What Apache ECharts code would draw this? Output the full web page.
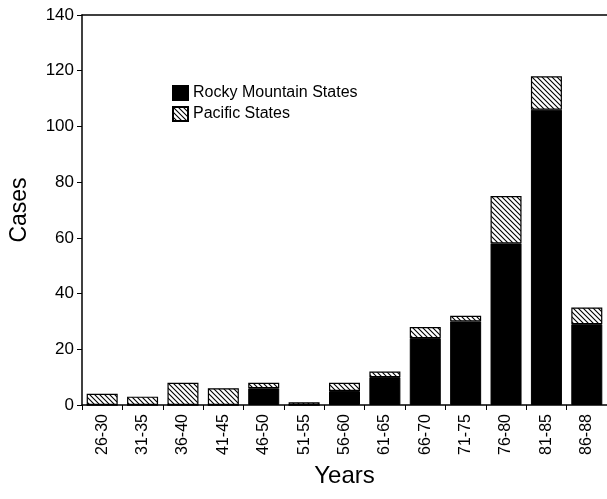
<!DOCTYPE html>
<html>
<head>
<meta charset="utf-8">
<script src="https://cdn.jsdelivr.net/npm/echarts@6/dist/echarts.min.js"></script>
<style>
html,body{margin:0;padding:0;background:#fff;}
#main{width:607px;height:499px;}
</style>
</head>
<body>
<div id="main"></div>
<script>
const categories = ['26-30','31-35','36-40','41-45','46-50','51-55','56-60','61-65','66-70','71-75','76-80','81-85','86-88'];
const rockyMountain = [0,0,0,0,6,0,5,10,24,30,58,106,29];
const pacific = [4,3,8,6,2,1,3,2,4,2,17,12,6];
const yTicks = {min:0, max:140, interval:20};

function makeHatch(){
  const c = document.createElement('canvas');
  const s = 5;
  c.width = s; c.height = s;
  const ctx = c.getContext('2d');
  ctx.fillStyle = '#fff';
  ctx.fillRect(0,0,s,s);
  ctx.strokeStyle = '#000';
  ctx.lineWidth = 1.1;
  ctx.beginPath();
  ctx.moveTo(-1,-1); ctx.lineTo(s+1,s+1);
  ctx.moveTo(-1,s-1); ctx.lineTo(1,s+1);
  ctx.moveTo(s-1,-1); ctx.lineTo(s+1,1);
  ctx.stroke();
  return c;
}
const hatch = {image: makeHatch(), repeat: 'repeat'};
const font = 'Liberation Sans, Arial, Helvetica, sans-serif';

const chart = echarts.init(document.getElementById('main'));
chart.setOption({
  animation:false,
  backgroundColor:'#fff',
  grid:{left:81, right:0, top:15, bottom:94},
  legend:{
    orient:'vertical', left:172, top:85, padding:0, itemWidth:15, itemHeight:14, itemGap:5,
    textStyle:{fontFamily:font, fontSize:16, color:'#000'},
    data:[{name:'Rocky Mountain States', icon:'rect'},{name:'Pacific States', icon:'rect'}]
  },
  xAxis:[{
    type:'category', data:categories, position:'bottom',
    axisLine:{lineStyle:{color:'#000', width:1.5}},
    axisTick:{show:true, length:5, lineStyle:{color:'#000'}},
    axisLabel:{rotate:90, fontFamily:font, fontSize:16, color:'#000', margin:9},
    name:'Years', nameLocation:'middle', nameGap:59,
    nameTextStyle:{fontFamily:font, fontSize:24, color:'#000'}
  },{
    type:'category', data:categories, position:'top',
    axisLine:{lineStyle:{color:'#000', width:1.5}},
    axisTick:{show:false}, axisLabel:{show:false}
  }],
  yAxis:{
    type:'value', min:yTicks.min, max:yTicks.max, interval:yTicks.interval,
    axisLine:{show:true, lineStyle:{color:'#000', width:1.5}},
    axisTick:{show:true, length:5, lineStyle:{color:'#000'}},
    axisLabel:{fontFamily:font, fontSize:17, color:'#000', margin:8},
    splitLine:{show:false},
    name:'Cases', nameLocation:'middle', nameGap:51, nameRotate:90,
    nameTextStyle:{fontFamily:font, fontSize:23, color:'#000'}
  },
  series:[{
    name:'Rocky Mountain States', type:'bar', stack:'a', data:rockyMountain,
    barWidth:31,
    itemStyle:{color:'#000', borderColor:'#000', borderWidth:1}
  },{
    name:'Pacific States', type:'bar', stack:'a', data:pacific,
    barWidth:31,
    itemStyle:{color:hatch, borderColor:'#000', borderWidth:1.2}
  }]
});
</script>
</body>
</html>
